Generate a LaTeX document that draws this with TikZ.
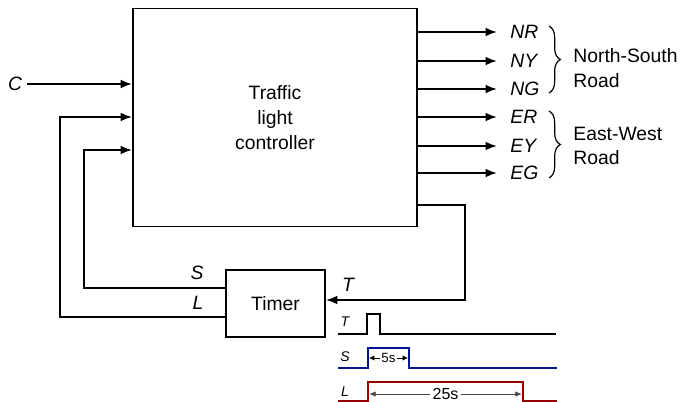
\documentclass[tikz,border=0pt]{standalone}
\usepackage{fontspec}
\setmainfont{Liberation Sans}
\usepackage{tikz}
\usetikzlibrary{arrows.meta,decorations.pathreplacing}
\definecolor{sigBlue}{RGB}{0,20,150}
\definecolor{sigRed}{RGB}{150,0,0}
\definecolor{dimGray}{RGB}{70,70,70}

\begin{document}
\begin{tikzpicture}[x=0.75pt,y=-0.75pt,line width=1.4pt,>={Latex[length=8.5pt,width=6.5pt]},
  big/.style={font=\fontsize{14.5}{18.5}\selectfont},
  bigit/.style={font=\fontsize{14.5}{18.5}\selectfont\itshape},
  small/.style={font=\fontsize{10.5}{12}\selectfont\itshape}]
\useasboundingbox (0,0) rectangle (680,402);
\node[draw,big,align=center,minimum width=213pt,minimum height=163.5pt] (ctrl) at (275,117.5) {Traffic\\light\\controller};
\node[draw,big,minimum width=74.25pt,minimum height=50.25pt] (timer) at (275.5,303.5) {Timer};
\node[bigit] (lblC) at (15,84) {C};
\draw[->] (lblC) -- (ctrl.west |- lblC);
\draw[->] (timer.west |- 0,288) -- (84,288) -- (84,150) -- (ctrl.west |- 0,150);
\draw[->] (timer.west |- 0,317) -- (60,317) -- (60,117) -- (ctrl.west |- 0,117);
\node[bigit] (lblS) at (197,273) {S};
\node[bigit] (lblL) at (198,303) {L};
\draw[->] (ctrl.east |- 0,205) -- (465,205) -- (465,300) -- (timer.east |- 0,300);
\node[bigit] (lblT) at (348,285) {T};
% outputs
\foreach \y/\lbl in {32/NR,61/NY,89/NG,117/ER,146/EY,173/EG}{
  \node[bigit,anchor=west] (out\lbl) at (505,\y) {\lbl};
  \draw[->] (ctrl.east |- out\lbl) -- (497,\y);
}
\draw[line width=0.9pt,decorate,decoration={brace,amplitude=8.5pt}] (549,26) -- (549,93);
\draw[line width=0.9pt,decorate,decoration={brace,amplitude=8.5pt}] (549,111) -- (549,178);
\node[big,align=left,anchor=west] (ns) at (568,68) {North-South\\Road};
\node[big,align=left,anchor=west] (ew) at (568,146) {East-West\\Road};
% timing
\node[small] (wT) at (345,322) {T};
\node[small] (wS) at (345,357) {S};
\node[small] (wL) at (345,392) {L};
\draw (338,334) -- (367,334) -- (367,314) -- (380,314) -- (380,334) -- (556,334);
\draw[sigBlue] (338,368) -- (368,368) -- (368,348) -- (409,348) -- (409,368) -- (557,368);
\draw[sigRed] (338,401) -- (368,401) -- (368,382) -- (523,382) -- (523,401) -- (557,401);
\draw[<->,line width=0.6pt,>={Latex[length=4pt,width=4pt]}] (369,358) -- (408,358)
  node[midway,fill=white,inner sep=1pt,font=\fontsize{10}{12}\selectfont] {5s};
\draw[<->,dimGray,line width=0.6pt,>={Latex[length=5pt,width=4pt]}] (369,394) -- (522,394)
  node[midway,fill=white,text=black,inner sep=2pt,font=\fontsize{12}{14}\selectfont] {25s};
\end{tikzpicture}
\end{document}
